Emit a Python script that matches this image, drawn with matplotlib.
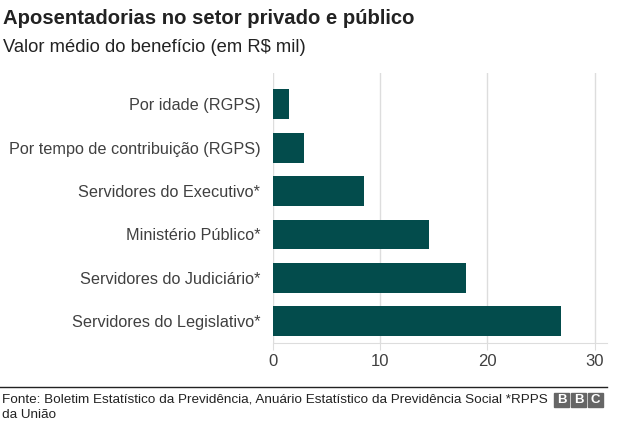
import matplotlib.pyplot as plt
from matplotlib.patches import Rectangle

categories = ["Por idade (RGPS)", "Por tempo de contribuição (RGPS)",
              "Servidores do Executivo*", "Ministério Público*",
              "Servidores do Judiciário*", "Servidores do Legislativo*"]
values = [1.55, 2.95, 8.5, 14.6, 18.0, 26.85]
ticks = [0, 10, 20, 30]

W, H = 640, 426
plt.rcParams['font.family'] = ['Liberation Sans', 'DejaVu Sans']
txt = "#404040"

fig = plt.figure(figsize=(6.4, 4.26), dpi=100)
# axes in pixels: left 272.7, right 606.7, top 73.3, bottom 343.3
ax = fig.add_axes([272.7 / W, 1 - 343.3 / H, (606.7 - 272.7) / W, (343.3 - 73.3) / H])

y = list(range(len(categories)))
ax.barh(y, values, height=0.69, color="#034c4c", zorder=3)
ax.set_ylim(len(categories) - 1 + 0.507, -0.714)
ax.set_xlim(0, 31.1)
ax.set_yticks(y)
ax.set_yticklabels(categories, fontsize=11.7, color=txt)
ax.set_xticks(ticks)
ax.set_xticklabels([str(t) for t in ticks], fontsize=12, color=txt)
ax.tick_params(axis='y', length=0, pad=9)
ax.tick_params(axis='x', length=5, color="#dddddd", pad=3)
ax.grid(axis='x', color="#dddddd", linewidth=1, zorder=0)
for s in ["top", "right", "left"]:
    ax.spines[s].set_visible(False)
ax.spines["bottom"].set_color("#dddddd")

fig.text(3 / W, 1 - 18 / H, "Aposentadorias no setor privado e público",
         fontsize=14.6, fontweight="bold", color="#222222", va="center")
fig.text(3 / W, 1 - 47 / H, "Valor médio do benefício (em R$ mil)",
         fontsize=13.2, color="#222222", va="center")

# footer
fig.add_artist(plt.Line2D([0, 606.7 / W], [1 - 387 / H, 1 - 387 / H],
                          color="#222222", linewidth=1))
fig.text(2 / W, 1 - 400 / H,
         "Fonte: Boletim Estatístico da Previdência, Anuário Estatístico da Previdência Social *RPPS",
         fontsize=9.7, color="#222222", va="center")
fig.text(2 / W, 1 - 415 / H, "da União", fontsize=9.7, color="#222222", va="center")
for i, ch in enumerate("BBC"):
    x0 = 554 + i * 17
    fig.add_artist(Rectangle((x0 / W, 1 - 407 / H), 15 / W, 14 / H,
                             color="#666666", transform=fig.transFigure))
    fig.text((x0 + 7.5) / W, 1 - 400 / H, ch, fontsize=9.5, fontweight="bold",
             color="white", ha="center", va="center")

fig.savefig("out.png", dpi=100)
